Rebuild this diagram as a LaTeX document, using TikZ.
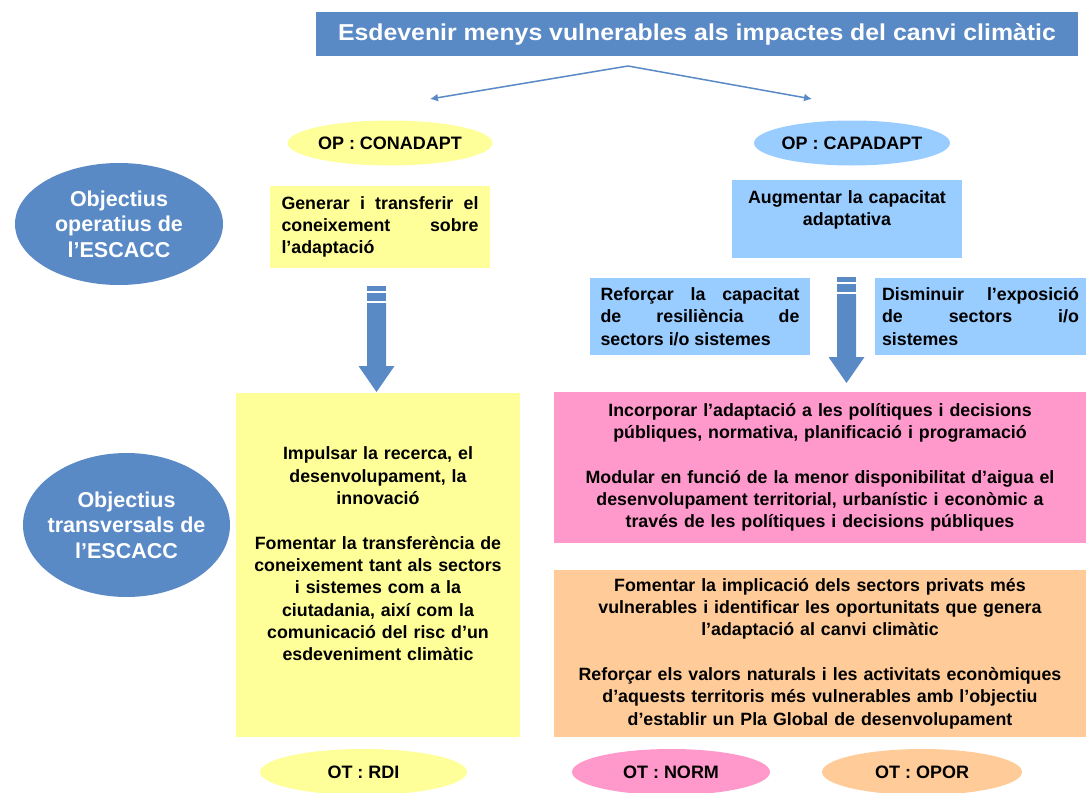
\documentclass[tikz,border=0pt]{standalone}
\usepackage{fontspec}
\setmainfont{Liberation Sans}
\newfontfamily\titlefont[FakeStretch=1.08]{Liberation Sans}
\usepackage{tikz}
\usetikzlibrary{arrows.meta,positioning,calc,shapes.geometric}
\definecolor{EscBlue}{HTML}{5A8AC6}
\definecolor{EscPaleBlue}{HTML}{99CCFF}
\definecolor{EscYellow}{HTML}{FFFF99}
\definecolor{EscPink}{HTML}{FF99CC}
\definecolor{EscPeach}{HTML}{FFCC99}
\tikzset{
  link/.style={-{Latex[length=8pt,width=8pt]}, line width=1.5pt, draw=EscBlue},
  block/.style={fill=EscBlue},
  box/.style={draw=none, inner sep=0pt, align=center, text=black,
              font=\bfseries\fontsize{17.8}{22.3}\selectfont},
  jbox/.style={box, align=justify},
  opellipse/.style={ellipse, draw=none, inner ysep=0pt, inner xsep=-12pt, minimum height=45pt,
              font=\bfseries\fontsize{18}{20}\selectfont},
  bigellipse/.style={ellipse, draw=none, fill=EscBlue, inner ysep=0pt, inner xsep=-20pt, align=center,
              text=white, font=\bfseries\fontsize{21.5}{25.5}\selectfont},
}

\begin{document}
\begin{tikzpicture}[x=1pt,y=-1pt]
  \useasboundingbox (0,0) rectangle (1086,792);
  % title
  \node[box,fill=EscBlue,text=white,minimum width=762pt,minimum height=44pt,
        font=\titlefont\bfseries\fontsize{23}{26}\selectfont] (title) at (697,34)
        {Esdevenir menys vulnerables als impactes del canvi climàtic};
  \coordinate (apex) at (628,66);
  \coordinate (leftend) at (430,99);
  \coordinate (rightend) at (812,99);
  \draw[link] (apex) -- (leftend);
  \draw[link] (apex) -- (rightend);

  % operative objectives
  \node[opellipse,fill=EscYellow,minimum width=205pt] (conadapt) at (390,143) {OP : CONADAPT};
  \node[opellipse,fill=EscPaleBlue,minimum width=196pt] (capadapt) at (852,143) {OP : CAPADAPT};
  \node[bigellipse,minimum width=208pt,minimum height=122pt] (operatius) at (119,224)
        {Objectius\\operatius de\\l’ESCACC};
  \node[bigellipse,minimum width=207pt,minimum height=144pt] (transversals) at (126.5,525)
        {Objectius\\transversals de\\l’ESCACC};

  \node[jbox,fill=EscYellow,text width=197pt,minimum width=220pt,minimum height=82pt] (generar) at (380,227)
        {Generar i transferir el\linebreak coneixement sobre\linebreak l’adaptació};
  \node[box,fill=EscPaleBlue,text width=215pt,minimum width=230pt,minimum height=78pt] (augmentar) at (847,219)
        {Augmentar la capacitat\\adaptativa\\\mbox{}};
  \node[jbox,fill=EscPaleBlue,text width=199pt,minimum width=220pt,minimum height=77pt] (reforcar) at (700,316.5)
        {Reforçar la capacitat\linebreak de resiliència de\linebreak sectors i/o sistemes};
  \node[jbox,fill=EscPaleBlue,text width=197pt,minimum width=211pt,minimum height=77pt] (disminuir) at (980.5,316.5)
        {Disminuir l’exposició\linebreak de sectors i/o\linebreak sistemes};

  % block arrows
  \foreach \cx/\ty/\hy/\by in {376.5/286/366/392, 846.5/277/357/383} {
    \fill[block] (\cx-9.5,\ty) rectangle (\cx+9.5,\ty+5);
    \fill[block] (\cx-9.5,\ty+7) rectangle (\cx+9.5,\ty+15);
    \fill[block] (\cx-9.5,\ty+17) -- (\cx-9.5,\hy) -- (\cx-18,\hy) -- (\cx,\by)
      -- (\cx+18,\hy) -- (\cx+9.5,\hy) -- (\cx+9.5,\ty+17) -- cycle;
  }

  % transversal objectives
  \node[box,fill=EscYellow,text width=275pt,minimum width=284pt,minimum height=344pt] (recerca) at (378,565)
        {Impulsar la recerca, el\\desenvolupament, la\\innovació\\[22.3pt]
         Fomentar la transferència de\\coneixement tant als sectors\\i sistemes com a la\\
         ciutadania, així com la\\comunicació del risc d'un\\esdeveniment climàtic\\\mbox{}};
  \node[box,fill=EscPink,text width=525pt,minimum width=532pt,minimum height=151pt] (politiques) at (820,467.5)
        {Incorporar l’adaptació a les polítiques i decisions\\públiques, normativa, planificació i programació\\[22.3pt]
         Modular en funció de la menor disponibilitat d’aigua el\\desenvolupament territorial, urbanístic i econòmic a\\
         través de les polítiques i decisions públiques};
  \node[box,fill=EscPeach,text width=525pt,minimum width=532pt,minimum height=167pt] (privats) at (820,653.5)
        {Fomentar la implicació dels sectors privats més\\vulnerables i identificar les oportunitats que genera\\
         l’adaptació al canvi climàtic\\[22.3pt]
         Reforçar els valors naturals i les activitats econòmiques\\d’aquests territoris més vulnerables amb l’objectiu\\
         d’establir un Pla Global de desenvolupament};

  \node[opellipse,fill=EscYellow,minimum width=207pt,minimum height=46pt] (rdi) at (363.5,772) {OT : RDI};
  \node[opellipse,fill=EscPink,minimum width=198pt,minimum height=46pt] (norm) at (671,772) {OT : NORM};
  \node[opellipse,fill=EscPeach,minimum width=200pt,minimum height=46pt] (opor) at (922,772) {OT : OPOR};
\end{tikzpicture}
\end{document}
